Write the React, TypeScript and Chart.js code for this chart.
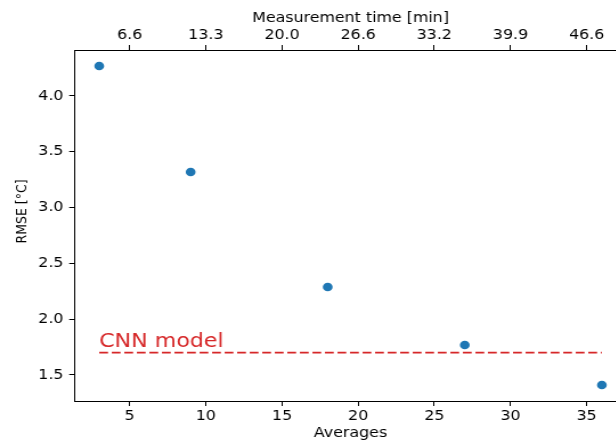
import { useEffect, useRef } from 'react';
import { Chart, registerables } from 'chart.js';

Chart.register(...registerables);

// ---- data ----
const averages = [3, 9, 18, 27, 36];
const rmse = [4.269, 3.319, 2.289, 1.769, 1.41];
const cnnRmse = 1.7;
const cnnLineX = [3, 36];
const cnnLabel = 'CNN model';
const cnnLabelY = 1.751;
const bottomTicks = [5, 10, 15, 20, 25, 30, 35];
const topTickLabels = ['6.6', '13.3', '20.0', '26.6', '33.2', '39.9', '46.6'];
const yTicks = [1.5, 2.0, 2.5, 3.0, 3.5, 4.0];
const xRange = [1.35, 37.65];
const yRange = [1.267, 4.412];
const xTitle = 'Averages';
const topTitle = 'Measurement time [min]';
const yTitle = 'RMSE [°C]';

const FONT = '"DejaVu Sans", sans-serif';
const BLUE = '#1f77b4';
const RED = '#d62728';
const STRETCH = 1.14;
const W = 580;
const H = 442;

const cnnTextPlugin = {
  id: 'cnnText',
  afterDatasetsDraw(chart: any) {
    const { ctx, scales } = chart;
    const x = scales.x.getPixelForValue(cnnLineX[0]);
    const y = scales.y.getPixelForValue(cnnLabelY);
    ctx.save();
    ctx.font = `19.4px ${FONT}`;
    ctx.fillStyle = RED;
    ctx.textAlign = 'left';
    ctx.textBaseline = 'alphabetic';
    ctx.fillText(cnnLabel, x, y);
    ctx.restore();
  },
};

const yTitlePlugin = {
  id: 'yTitle',
  afterDraw(chart: any) {
    const { ctx, chartArea } = chart;
    const cx = 19.5;
    const cy = (chartArea.top + chartArea.bottom) / 2 - 14;
    ctx.save();
    ctx.translate(cx, cy);
    ctx.rotate(-Math.PI / 2);
    ctx.font = `12.5px ${FONT}`;
    ctx.fillStyle = '#000';
    ctx.textAlign = 'center';
    ctx.textBaseline = 'middle';
    ctx.fillText(yTitle, 0, 0);
    ctx.restore();
  },
};

export default function App() {
  const ref = useRef<HTMLCanvasElement | null>(null);

  useEffect(() => {
    if (!ref.current) return;
    const tickFont = { family: FONT, size: 13.9 };
    const chart = new Chart(ref.current, {
      type: 'scatter',
      data: {
        datasets: [
          {
            label: 'rmse',
            data: averages.map((a, i) => ({ x: a, y: rmse[i] })),
            backgroundColor: BLUE,
            borderColor: BLUE,
            pointRadius: 4.3,
            pointBorderWidth: 0,
            showLine: false,
          },
          {
            label: 'cnn',
            data: cnnLineX.map((a) => ({ x: a, y: cnnRmse })),
            borderColor: RED,
            backgroundColor: RED,
            borderWidth: 1.9,
            borderDash: [7.7, 3.3],
            pointRadius: 0,
            showLine: true,
          },
        ],
      },
      options: {
        animation: false,
        responsive: false,
        maintainAspectRatio: false,
        layout: { padding: { left: 0, right: W - 550, top: 0, bottom: 0 } },
        plugins: {
          legend: { display: false },
          tooltip: { enabled: false },
        },
        scales: {
          x: {
            type: 'linear',
            position: 'bottom',
            min: xRange[0],
            max: xRange[1],
            afterBuildTicks: (s: any) => {
              s.ticks = bottomTicks.map((v) => ({ value: v }));
            },
            afterFit: (s: any) => {
              s.height = 41;
            },
            ticks: {
              color: '#000',
              font: tickFont,
              padding: 2,
              maxRotation: 0,
              autoSkip: false,
              callback: (v: any) => String(v),
            },
            grid: {
              display: true,
              drawOnChartArea: false,
              drawTicks: true,
              tickLength: 5,
              tickColor: '#000',
              tickWidth: 1,
            },
            border: { display: true, color: '#000', width: 1 },
            title: {
              display: true,
              text: xTitle,
              color: '#000',
              font: tickFont,
              padding: { top: 0, bottom: 0 },
            },
          },
          x2: {
            type: 'linear',
            position: 'top',
            min: xRange[0],
            max: xRange[1],
            afterBuildTicks: (s: any) => {
              s.ticks = bottomTicks.map((v) => ({ value: v }));
            },
            afterFit: (s: any) => {
              s.height = 50;
            },
            ticks: {
              color: '#000',
              font: tickFont,
              padding: 1,
              maxRotation: 0,
              autoSkip: false,
              callback: (_v: any, i: number) => topTickLabels[i],
            },
            grid: {
              display: true,
              drawOnChartArea: false,
              drawTicks: true,
              tickLength: 5,
              tickColor: '#000',
              tickWidth: 1,
            },
            border: { display: true, color: '#000', width: 1 },
            title: {
              display: true,
              text: topTitle,
              color: '#000',
              font: tickFont,
              padding: { top: 10.5, bottom: 0 },
            },
          },
          y: {
            type: 'linear',
            position: 'left',
            min: yRange[0],
            max: yRange[1],
            afterBuildTicks: (s: any) => {
              s.ticks = yTicks.map((v) => ({ value: v }));
            },
            afterFit: (s: any) => {
              s.width = 65;
            },
            ticks: {
              color: '#000',
              font: tickFont,
              padding: 5,
              autoSkip: false,
              callback: (v: any) => Number(v).toFixed(1),
            },
            grid: {
              display: true,
              drawOnChartArea: false,
              drawTicks: true,
              tickLength: 4.3,
              tickColor: '#000',
              tickWidth: 1,
            },
            border: { display: true, color: '#000', width: 1 },
            title: { display: false },
          },
        },
      },
      plugins: [cnnTextPlugin, yTitlePlugin],
    });
    return () => chart.destroy();
  }, []);

  return (
    <div
      style={{
        position: 'fixed',
        left: 0,
        top: 0,
        width: 616,
        height: 442,
        overflow: 'hidden',
        background: '#fff',
      }}
    >
      <div
        style={{
          width: W,
          height: H,
          transform: `scaleX(${STRETCH})`,
          transformOrigin: '0 0',
        }}
      >
        <canvas
          ref={ref}
          width={W}
          height={H}
          style={{ width: W, height: H, display: 'block' }}
        />
      </div>
    </div>
  );
}
